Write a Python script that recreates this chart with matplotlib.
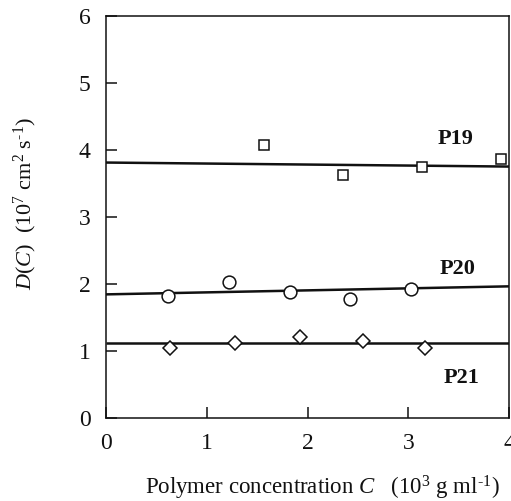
import matplotlib
matplotlib.use('Agg')
import matplotlib.pyplot as plt

# data
p19_c = [1.57, 2.35, 3.14, 3.92]
p19_d = [4.07, 3.63, 3.75, 3.86]
p20_c = [0.62, 1.22, 1.83, 2.42, 3.03]
p20_d = [1.82, 2.02, 1.87, 1.77, 1.92]
p21_c = [0.64, 1.28, 1.93, 2.55, 3.17]
p21_d = [1.04, 1.11, 1.20, 1.14, 1.04]

# fitted lines (end points at C=0 and C=4)
fit_c = [0, 4]
p19_fit = [3.81, 3.75]
p20_fit = [1.84, 1.96]
p21_fit = [1.11, 1.11]

labels = ['P19', 'P20', 'P21']
label_pos = [(3.47, 4.16), (3.49, 2.22), (3.53, 0.59)]

plt.rcParams['font.family'] = 'serif'
plt.rcParams['font.serif'] = ['Liberation Serif', 'DejaVu Serif']
plt.rcParams['mathtext.fontset'] = 'custom'
plt.rcParams['mathtext.rm'] = 'Liberation Serif'
plt.rcParams['mathtext.it'] = 'Liberation Serif:italic'

fig = plt.figure(figsize=(5.11, 5.01), dpi=100)
ax = fig.add_axes([106/511, (501-417.5)/501, (509-106)/511, (417.5-16)/501])

lc = '#111111'
for y in [p19_fit, p20_fit, p21_fit]:
    ax.plot(fit_c, y, color=lc, lw=1.8, zorder=2, solid_capstyle='butt')

ax.plot(p19_c, p19_d, ls='none', marker='s', ms=7.5, mfc='white', mec=lc, mew=1.1, zorder=3)
ax.plot(p20_c, p20_d, ls='none', marker='o', ms=9.2, mfc='white', mec=lc, mew=1.1, zorder=3)
ax.plot(p21_c, p21_d, ls='none', marker='D', ms=7.0, mfc='white', mec=lc, mew=1.1, zorder=3)

for t, (x, y) in zip(labels, label_pos):
    ax.text(x, y, t, fontsize=16, fontweight='bold', ha='center', va='center', color=lc)

ax.set_xlim(0, 4)
ax.set_ylim(0, 6)
ax.set_xticks([0, 1, 2, 3, 4])
ax.set_yticks([0, 1, 2, 3, 4, 5, 6])
ax.tick_params(direction='in', length=8, width=1.1, labelsize=17, color=lc, labelcolor=lc)
ax.tick_params(axis='y', pad=11)
ax.tick_params(axis='x', pad=11)
for s in ax.spines.values():
    s.set_linewidth(1.1)
    s.set_color(lc)

fig.text(322/511, 7/501, r'Polymer concentration $C$   (10$^{3}$ g ml$^{\text{-}1}$)',
         fontsize=16.5, ha='center', va='baseline', color=lc)
fig.text(25/511, 1 - 204/501, r'$D$($C$)  (10$^{7}$ cm$^{2}$ s$^{\text{-}1}$)',
         fontsize=16, rotation=90, ha='center', va='center', color=lc)

fig.savefig('out.png', dpi=100)
